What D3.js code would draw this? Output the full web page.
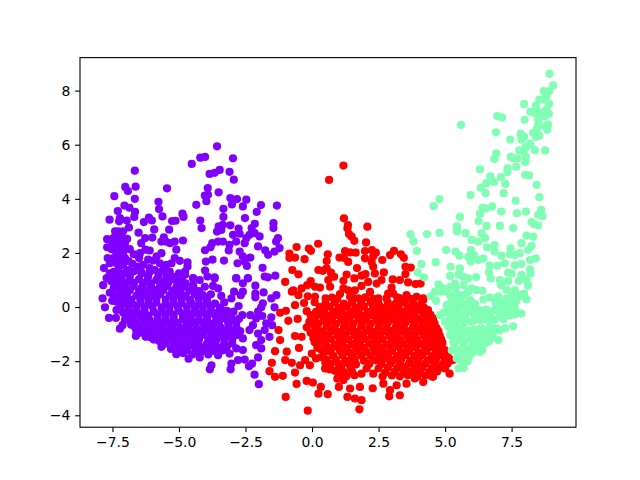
<!DOCTYPE html>
<html><head><meta charset="utf-8">
<script src="https://cdn.jsdelivr.net/npm/d3@7/dist/d3.min.js"></script>
<style>html,body{margin:0;padding:0;background:#fff}svg{display:block}</style>
</head><body><svg id="c" width="640" height="480"></svg>
<script>
const purplePoints = [[-3.57,5.94],[-4.2,5.52],[-4.02,5.55],[-4.52,5.29],[-2.97,5.5],[-6.66,5.04],[-3.47,5.07],[-3.66,4.96],[-3.85,4.92],[-3.1,5],[-2.94,4.71],[-7.02,4.44],[-6.92,4.29],[-6.63,4.45],[-5.45,4.39],[-7.43,4.1],[-6.66,4],[-5.77,3.89],[-5.75,3.62],[-3.92,4.4],[-3.91,4.15],[-4.03,4.12],[-3.51,4.24],[-3.97,3.91],[-4.35,3.78],[-3.07,4.03],[-2.82,3.99],[-3.01,3.79],[-2.47,3.97],[-2.6,3.72],[-3.33,3.63],[-1.92,3.77],[-2.08,3.52],[-1.32,3.75],[-7.05,3.75],[-6.86,3.67],[-7.3,3.55],[-6.65,3.52],[-6.68,3.33],[-7.61,3.23],[-7.22,3.29],[-6.96,3.2],[-7.25,3.17],[-6.32,3.14],[-6.13,3.31],[-6.02,3.2],[-5.62,3.35],[-4.87,3.45],[-4.83,3.33],[-5.26,3.18],[-5.13,3.19],[-5.37,2.86],[-5.93,2.87],[-6.52,2.75],[-6.88,2.94],[-4.2,3.2],[-4.15,2.92],[-3.33,3.33],[-2.52,3.29],[-1.45,3.1],[-1.45,2.92],
[-3.51,2.98],[-3.35,3.04],[-3.07,3.02],[-2.76,2.9],[-2.15,3.08],[-2.27,2.92],[-3.57,2.79],[-3.41,2.85],[-2.97,2.67],[-2.72,2.71],[-2.35,2.67],[-2.16,2.73],[-1.97,2.61],[-2.03,2.24],[-2.47,2.55],[-2.53,2.36],[-2.85,2.42],[-3.1,2.3],[-3.35,2.42],[-3.53,2.42],[-3.75,2.36],[-3.82,2.21],[-4.02,2.1],[-3.13,2.09],[-2.72,2.05],[-2.6,1.87],[-2.32,1.83],[-2.8,1.62],[-2.53,1.68],[-2.45,1.52],[-1.76,2.1],[-1.65,1.93],[-1.41,2.05],[-1.35,2.42],[-1.28,2.55],[-1.22,2.18],[-3.99,1.68],[-3.74,1.75],[-3.31,1.72],[-1.86,1.45],[-4.02,1.35],[-3.93,1.13],[-3.66,1.1],[-2.85,1.07],[-2.41,1.07],[-1.78,1.13],[-1.66,1.1],[-1.38,1.16],[-4.47,1.07],
[-7.4,2.8],[-7.28,2.8],[-7.1,2.8],[-7.7,2.51],[-7.47,2.55],[-7.28,2.55],[-7.16,2.61],[-6.95,2.52],[-7.03,2.36],[-7.41,2.3],[-7.28,2.3],[-7.7,2.21],[-7.53,2.14],[-7.22,2.12],[-6.85,2.14],[-7.1,1.99],[-7.35,1.93],[-7.68,1.81],[-7.47,1.81],[-7.22,1.81],[-7.03,1.81],[-7.82,1.44],[-7.6,1.62],[-7.35,1.62],[-7.1,1.56],[-6.91,1.37],[-7.28,1.37],[-7.6,1.25],[-7.72,1.07],[-7.41,1.13],[-7.16,1.13],[-6.85,1.13],
[-6.27,2.55],[-6.42,2.36],[-6,2.57],[-5.57,2.58],[-5.66,2.42],[-5.5,2.42],[-5.34,2.36],[-5.16,2.42],[-4.85,2.46],[-5.1,2.12],[-6.26,2.12],[-6.1,2.09],[-6.47,1.99],[-5.66,1.99],[-5.84,1.87],[-6.5,1.81],[-6.16,1.75],[-5.97,1.72],[-5.16,1.81],[-4.97,1.71],[-4.68,1.65],[-4.68,1.5],[-5.28,1.62],[-5.47,1.56],[-5.72,1.62],[-6.34,1.56],[-6.53,1.5],[-6.1,1.44],[-5.91,1.37],[-5.6,1.37],[-5.35,1.31],[-4.77,1.31],[-4.77,1.19],[-6.41,1.25],[-6.16,1.13],[-5.78,1.13],[-5.47,1.13],[-5.1,1.13],
[-7.85,0.81],[-7.6,0.53],[-7.87,0.32],[-7.51,0.23],[-7.78,-0.01],[-7.35,-0.11],[-7.63,-0.4],[-7.37,-0.4],[-7.03,-0.48],[-7.12,-0.67],[-7.22,-0.8],[-6.62,-1.07],[-6.07,-1.12],[-5.66,-1.47],[-5.1,-1.74],[-4.64,-1.91],[-4.22,-1.86],[-3.78,-2.15],[-3.84,-2.3],[-3.53,-1.78],[-3.03,-2.09],[-3.06,-2.3],[-2.78,-1.96],[-2.53,-1.94],[-2.25,-2.09],[-2.37,-2.19],[-2.03,-1.86],[-2.16,-2.5],[-2,-2.85],
[-4.47,1.06],[-4.47,0.81],[-4.22,1],[-4.03,0.75],[-3.66,1.06],[-3.72,0.78],[-3.53,0.69],[-2.85,1.06],[-2.41,1.06],[-2.6,0.88],[-2.13,0.79],[-1.82,0.54],[-2.13,0.5],[-2.13,0.36],[-2.6,0.57],[-2.68,0.44],[-2.93,0.57],[-3.03,0.32],[-3.41,0.41],[-1.53,0.32],[-1.34,0.44],[-1.41,-0.01],[-2.76,0.04],[-1.85,0.14],[-1.91,-0.01],[-2.03,-0.17],[-2.62,-0.3],[-2.32,-0.3],[-2.1,-0.42],[-1.87,-0.33],[-1.53,-0.38],[-1.72,-0.6],[-1.5,-0.67],[-1.78,-0.85],[-2.22,-0.67],[-2.35,-0.85],[-2.03,-0.98],[-1.6,-1.1],[-1.91,-1.22],[-2.6,-1.16],[-2.1,-1.41],[-1.91,-1.53],[-2.6,-1.59],[-2.85,-1.53],[-3.1,-1.72],[-3.28,-1.41],
[-7.15,1],[-6.85,0.95],[-6.5,1.03],[-6.2,0.97],[-5.85,1],[-5.55,0.94],[-5.2,1.02],[-4.9,0.96],
[-7.3,0.75],[-7,0.7],[-6.7,0.78],[-6.4,0.72],[-6.05,0.76],[-5.75,0.7],[-5.45,0.77],[-5.1,0.73],[-4.8,0.75],[-4.45,0.7],
[-7.25,0.45],[-6.95,0.5],[-6.6,0.42],[-6.3,0.47],[-6,0.43],[-5.7,0.48],[-5.35,0.44],[-5.05,0.47],[-4.75,0.42],[-4.4,0.46],[-4.1,0.44],[-3.8,0.47],
[-7.05,0.15],[-6.75,0.12],[-6.45,0.18],[-6.15,0.13],[-5.85,0.17],[-5.5,0.12],[-5.2,0.16],[-4.9,0.14],[-4.55,0.17],[-4.25,0.12],[-3.95,0.16],[-3.65,0.13],[-3.3,0.17],
[-6.9,-0.15],[-6.6,-0.18],[-6.3,-0.13],[-5.95,-0.17],[-5.65,-0.12],[-5.35,-0.16],[-5,-0.14],[-4.7,-0.18],[-4.4,-0.12],[-4.1,-0.17],[-3.8,-0.13],[-3.5,-0.16],[-3.2,-0.14],[-2.95,-0.17],
[-6.7,-0.45],[-6.4,-0.42],[-6.1,-0.48],[-5.8,-0.43],[-5.5,-0.47],[-5.2,-0.42],[-4.85,-0.46],[-4.55,-0.44],[-4.25,-0.48],[-3.95,-0.43],[-3.6,-0.47],[-3.3,-0.42],[-3,-0.46],[-2.75,-0.44],
[-6.5,-0.75],[-6.2,-0.78],[-5.9,-0.72],[-5.6,-0.77],[-5.25,-0.73],[-4.95,-0.76],[-4.65,-0.72],[-4.35,-0.78],[-4.05,-0.73],[-3.75,-0.77],[-3.45,-0.74],[-3.15,-0.76],[-2.85,-0.73],
[-6.2,-1],[-5.9,-1.03],[-5.6,-1.05],[-5.3,-1.02],[-5,-1.07],[-4.7,-1.03],[-4.4,-1.06],[-4.1,-1.02],[-3.75,-1.07],[-3.45,-1.03],[-3.15,-1.06],[-2.85,-1.04],
[-5.2,-1.35],[-4.9,-1.32],[-4.6,-1.37],[-4.3,-1.33],[-3.95,-1.36],[-3.65,-1.32],[-3.3,-1.37],[-3,-1.34],
[-4.7,-1.6],[-4.35,-1.63],[-4,-1.58],[-3.7,-1.62],[-3.35,-1.6]];

const purpleDense = [[-7,0.88],[-6.7,0.9],[-6.35,0.85],[-6.05,0.88],[-5.7,0.86],[-5.4,0.9],[-5.05,0.87],[-4.75,0.88],
[-7.15,0.6],[-6.85,0.62],[-6.5,0.58],[-6.2,0.61],[-5.9,0.59],[-5.6,0.62],[-5.25,0.6],[-4.95,0.58],[-4.6,0.61],[-4.25,0.59],
[-7.1,0.3],[-6.8,0.28],[-6.45,0.32],[-6.15,0.29],[-5.85,0.31],[-5.5,0.28],[-5.2,0.32],[-4.9,0.3],[-4.6,0.28],[-4.25,0.31],[-3.95,0.29],
[-6.9,0],[-6.6,0.03],[-6.3,-0.02],[-6,0.02],[-5.65,-0.01],[-5.35,0.03],[-5.05,0],[-4.7,0.02],[-4.4,-0.02],[-4.1,0.01],[-3.8,0.02],[-3.45,-0.01],
[-6.75,-0.3],[-6.45,-0.28],[-6.15,-0.32],[-5.8,-0.29],[-5.5,-0.31],[-5.2,-0.28],[-4.85,-0.32],[-4.55,-0.3],[-4.25,-0.28],[-3.95,-0.31],[-3.65,-0.29],[-3.35,-0.31],[-3.05,-0.29],
[-6.55,-0.6],[-6.25,-0.58],[-5.95,-0.62],[-5.65,-0.59],[-5.35,-0.61],[-5.05,-0.58],[-4.7,-0.62],[-4.4,-0.6],[-4.1,-0.58],[-3.8,-0.61],[-3.5,-0.59],[-3.15,-0.61],[-2.85,-0.59],
[-6.3,-0.9],[-6,-0.88],[-5.7,-0.92],[-5.4,-0.89],[-5.1,-0.91],[-4.8,-0.88],[-4.5,-0.92],[-4.2,-0.9],[-3.9,-0.88],[-3.6,-0.91],[-3.3,-0.89],[-3,-0.91],[-2.7,-0.89],
[-5.45,-1.2],[-5.15,-1.18],[-4.85,-1.22],[-4.55,-1.19],[-4.25,-1.21],[-3.9,-1.18],[-3.6,-1.22],[-3.3,-1.2],[-3,-1.19],
[-5,-1.47],[-4.75,-1.5],[-4.45,-1.45],[-4.15,-1.48],[-3.8,-1.46],[-3.5,-1.49],[-3.2,-1.47],
[-7.45,1.3],[-7,1.28],[-6.7,1.32],[-6.4,1.27],[-6.1,1.3],[-5.75,1.26],[-5.3,1.15],[-5,1.25],[-7.55,0.95],[-7.45,0.7],
[-7.4,1.75],[-7.1,1.78],[-6.9,1.7],[-7.4,2.1],[-7.05,2.15],[-7.3,2.45],[-7.5,2.35],[-6.75,1.6],[-6.7,1.95],
[-7.45,0.45],[-7.35,0.2],[-7.2,0],[-7.1,-0.2],[-7,-0.35],[-6.85,-0.45],[-6.8,-0.65],[-6.65,-0.75],[-6.45,-0.95],[-7.45,1],[-7.3,0.95],[-7.1,0.7],[-7.15,0.3],[-6.95,0.2],[-6.8,-0.2],[-6.6,-0.9],[-6.25,-1.1],[-5.95,-1.2],[-5.75,-1.25],[-5.5,-1.35],[-5.3,-1.55],[-5,-1.6],[-4.85,-1.7],[-4.5,-1.75],[-4.2,-1.7],[-3.9,-1.75],[-3.5,-1.65]];

const redPoints = [[1.18,5.23],[0.64,4.7],[1.2,3.28],[1.35,3.03],[2.08,2.97],[1.33,2.91],[1.39,2.7],[1.49,2.6],[1.59,2.45],[2.03,2.39],[0.23,2.34],[-0.58,2.22],[-0.12,2.16],[-0.04,2.08],[0.59,1.95],[-0.85,1.98],[-0.85,1.82],[-0.64,1.83],[-0.28,1.77],[0.55,1.7],[1.24,2.07],[1.43,2.02],[1.64,2.01],[1.99,2.07],[2.25,2.11],[2.4,2.01],[2.3,1.88],[1.99,1.8],[1.03,1.83],[1.2,1.82],[1.36,1.67],[2.64,1.74],[2.93,1.92],[3.08,2.08],[3.34,1.95],[3.45,1.82],[2.24,1.67],[2.3,1.49],[3.51,1.49],[3.71,1.46],[-0.74,1.37],[-0.51,1.21],[-1.01,0.93],[1.69,1.44],[0.24,1.37],[0.55,1.43],[0.4,1.34],[0.71,1.27],[0.83,1.12],[0.61,1],[0.68,0.75],[1.3,1.2],[1.18,0.97],[1.59,1.06],[1.86,1.16],[2.01,1.22],[2.36,1.24],[2.7,1.28],[2.61,1],[2.43,0.87],[2.11,0.93],[1.86,0.78],[3.03,1.02],[3.3,1],[3.51,1.22],[3.61,0.91],[3.89,0.85],[4.08,0.87],[-0.05,0.96],[-0.18,0.81],[0.11,0.75],[0.3,0.72],[-0.7,0.62],[-0.39,0.69],[-0.51,0.44],[-0.16,0.4],[0.11,0.38],[0.51,0.32],[1.05,0.48],[1.18,0.69],[1.36,0.62],[1.61,0.62],[1.43,0.38],[1.74,0.32],[2.18,0.56],[2.49,0.32],[2.86,0.5],[2.99,0.72],[3.05,0.5],[3.55,0.44],[3.93,0.38],[4.18,0.32],[2.8,0.32],[3.3,0.32],
[-1.2,-0.21],[-0.98,-0.14],[-0.89,-0.51],[-0.54,-0.44],[-0.64,0.07],[-0.76,0.57],[-1.26,-0.85],[-1.2,-1.22],[-0.95,-1.65],[-1.39,-1.63],[-0.49,-1.51],[-0.64,-1.07],[-0.39,-1.1],[-1.01,-1.96],[-1.51,-2.06],[-1.6,-2.37],[-1.39,-2.58],[-1.1,-2.54],[-0.64,-2.42],[-0.76,-2.06],[-0.45,-2.15],[-0.26,-1.96],[-0.01,-1.72],[-0.08,-2.15],[0.49,-2.27],[-0.2,-2.73],[0.03,-2.79],[-0.58,-2.84],[0.33,-2.95],[0.24,-3.2],[0.59,-3.22],[-0.99,-3.32],[-0.16,-3.83],[1.78,-3.78],[1.01,-2.95],[1.33,-3.32],[1.61,-3.38],[1.86,-3.44],[2.28,-3],[2.9,-3.3],[3.3,-3.26],[2.93,-3.07],[5.17,-2.46],[4.55,-2.58],[4.18,-2.77],[3.55,-2.83],[3.86,-2.64],[5.3,-1.96],[4.99,-1.59],[4.86,-1.22],[4.68,-0.79],[4.55,-0.42],[4.36,-0.11],[4.18,0.26],[1.86,-2.46],[2.05,-2.27],[2.3,-2.46],[2.68,-2.83],[1.18,-2.7],[1.43,-3.01],[1.8,-2.95],[3.18,-2.89],
[-0.3,0.15],[0.1,0.18],[0.5,0.13],[0.85,0.17],[1.2,0.12],[1.5,0.16],[1.85,0.14],[2.2,0.18],[2.5,0.12],[2.85,0.16],[3.15,0.13],[3.45,0.17],[3.8,0.14],[4.1,0.12],
[-0.2,-0.15],[0.15,-0.18],[0.45,-0.13],[0.8,-0.17],[1.1,-0.12],[1.45,-0.16],[1.75,-0.14],[2.1,-0.18],[2.4,-0.12],[2.75,-0.16],[3.05,-0.13],[3.4,-0.17],[3.7,-0.14],[4.05,-0.12],[4.3,-0.16],
[0.1,-0.45],[0.45,-0.48],[0.75,-0.43],[1.1,-0.47],[1.4,-0.42],[1.75,-0.46],[2.05,-0.44],[2.4,-0.48],[2.7,-0.42],[3.05,-0.47],[3.35,-0.43],[3.7,-0.46],[4,-0.44],[4.3,-0.48],[4.5,-0.43],
[-0.2,-0.75],[0.2,-0.78],[0.55,-0.72],[0.85,-0.77],[1.2,-0.73],[1.5,-0.76],[1.85,-0.72],[2.15,-0.78],[2.5,-0.73],[2.8,-0.77],[3.15,-0.74],[3.45,-0.76],[3.8,-0.73],[4.1,-0.77],[4.4,-0.74],[4.65,-0.76],
[0.3,-1.05],[0.6,-1.02],[0.95,-1.07],[1.25,-1.03],[1.6,-1.06],[1.9,-1.02],[2.25,-1.07],[2.55,-1.03],[2.9,-1.06],[3.2,-1.04],[3.55,-1.07],[3.85,-1.03],[4.2,-1.06],[4.5,-1.04],[4.8,-1.06],
[0.5,-1.35],[0.85,-1.38],[1.15,-1.33],[1.5,-1.37],[1.8,-1.32],[2.15,-1.36],[2.45,-1.34],[2.8,-1.38],[3.1,-1.32],[3.45,-1.37],[3.75,-1.33],[4.1,-1.36],[4.4,-1.34],[4.7,-1.37],[4.9,-1.33],
[0.7,-1.65],[1.05,-1.62],[1.4,-1.67],[1.7,-1.63],[2.05,-1.66],[2.35,-1.62],[2.7,-1.67],[3,-1.63],[3.35,-1.66],[3.65,-1.64],[4,-1.67],[4.3,-1.63],[4.65,-1.66],[4.95,-1.64],[5.1,-1.67],
[0.9,-1.95],[1.25,-1.98],[1.6,-1.93],[2.4,-1.97],[2.7,-1.92],[3.05,-1.96],[3.35,-1.94],[3.7,-1.98],[4,-1.92],[4.35,-1.97],[4.65,-1.93],[5,-1.96],[5.2,-1.94],
[1.1,-2.25],[1.45,-2.22],[2.5,-2.27],[2.85,-2.23],[3.2,-2.26],[3.5,-2.22],[3.85,-2.27],[4.15,-2.23],[4.5,-2.26],[4.8,-2.24],[5,-2.27],
[1.3,-2.55],[1.6,-2.52],[2.65,-2.57],[3,-2.53],[3.3,-2.56],[3.6,-2.52],[3.95,-2.57],[4.25,-2.53],[4.5,-2.56]];

const redDense = [[0.3,0],[0.65,0.02],[1,-0.02],[1.3,0.01],[1.65,-0.01],[1.95,0.02],[2.3,0],[2.65,-0.02],[2.95,0.01],[3.25,-0.01],[3.6,0.02],[3.9,0],[4.2,-0.02],
[-0.05,-0.3],[0.3,-0.28],[0.6,-0.32],[0.95,-0.29],[1.25,-0.31],[1.6,-0.28],[1.9,-0.32],[2.25,-0.3],[2.55,-0.28],[2.9,-0.31],[3.2,-0.29],[3.55,-0.31],[3.85,-0.29],[4.2,-0.32],[4.45,-0.29],
[0.25,-0.6],[0.6,-0.58],[0.9,-0.62],[1.25,-0.59],[1.55,-0.61],[1.9,-0.58],[2.2,-0.62],[2.55,-0.6],[2.85,-0.58],[3.2,-0.61],[3.5,-0.59],[3.85,-0.61],[4.15,-0.59],[4.45,-0.62],[4.6,-0.6],
[0.4,-0.9],[0.75,-0.88],[1.05,-0.92],[1.4,-0.89],[1.7,-0.91],[2.05,-0.88],[2.35,-0.92],[2.7,-0.9],[3,-0.88],[3.35,-0.91],[3.65,-0.89],[4,-0.91],[4.3,-0.89],[4.6,-0.92],[4.75,-0.9],
[0.4,-1.2],[0.7,-1.18],[1.05,-1.22],[1.35,-1.19],[1.7,-1.21],[2,-1.18],[2.35,-1.22],[2.65,-1.2],[3,-1.18],[3.3,-1.21],[3.65,-1.19],[3.95,-1.21],[4.3,-1.19],[4.6,-1.22],[4.85,-1.2],
[0.6,-1.5],[0.95,-1.48],[1.3,-1.52],[1.65,-1.49],[1.95,-1.51],[2.3,-1.48],[2.6,-1.52],[2.95,-1.5],[3.25,-1.48],[3.6,-1.51],[3.9,-1.49],[4.25,-1.51],[4.55,-1.49],[4.85,-1.52],
[0.8,-1.8],[1.15,-1.78],[1.5,-1.82],[1.85,-1.79],[2.2,-1.81],[2.5,-1.78],[2.85,-1.82],[3.2,-1.8],[3.5,-1.78],[3.85,-1.81],[4.15,-1.79],[4.5,-1.81],[4.8,-1.79],[5.1,-1.82],
[1,-2.1],[1.35,-2.08],[1.65,-2.12],[1.95,-1.98],[2.15,-2.1],[2.6,-2.11],[2.95,-2.09],[3.3,-2.11],[3.65,-2.08],[3.95,-2.12],[4.25,-2.1],[4.6,-2.08],[4.9,-2.11],[5.1,-2.09],
[1.2,-2.4],[1.5,-2.38],[2.75,-2.42],[3.1,-2.39],[3.45,-2.41],[3.75,-2.38],[4.05,-2.42],[4.4,-2.4],[4.7,-2.38],
[0.75,0.35],[0.95,0.3],[1.55,0.33],[2,0.36],[2.3,0.3],[3.2,0.36],[3.7,0.3],
[0.1,-1.3],[0.2,-1.5],[0.05,-1.15],[0.3,-1.55],[0.35,-1.85],[0.15,-1.9],[0.55,-1.95],[0.7,-2.1],[0.5,-2.05],[0.85,-2.35],[1,-2.5],[0.95,-2.65],[0.3,-1.25],[0.45,-1.7],[0.65,-2.3],[-0.05,-0.95],[0.1,-0.7],[-0.1,-0.55],[0.1,-0.95]];

const mintPoints = [[8.92,8.62],[9.06,8.19],[8.71,7.98],[8.91,7.98],[8.81,7.79],[8.54,7.67],[8.69,7.67],[7.97,7.5],[8.42,7.45],[8.91,7.51],[8.81,7.3],[8.21,7.22],[8.56,7.2],[8.37,7.17],[8.9,7.14],[8.75,7.05],[6.96,7.06],[7.14,7.01],[7.99,6.92],[8.5,6.93],[8.5,6.74],[8.87,6.74],[8.75,6.68],[5.6,6.73],[8.84,6.55],[8.44,6.56],[6.91,6.46],[8.31,6.43],[8.54,6.33],[8.41,6.29],[7.84,6.4],[7.97,6.29],[7.87,6.19],[7.45,6.19],[8.19,6.03],[8.04,5.92],[7.79,5.79],[7.96,5.75],[8.37,5.8],[8.76,5.79],[6.92,5.68],[6.85,5.48],[7.47,5.55],[7.56,5.5],[7.72,5.5],[8.04,5.55],[8.02,5.36],[7.67,5.19],[7.35,5.13],[7.34,4.99],[6.31,5.09],[8.01,4.89],[8.16,4.87],[6.7,4.83],[7.1,4.8],[6.55,4.58],[6.84,4.62],[6.34,4.41],[7.27,4.55],[8.44,4.52],[6.52,4.21],[7.2,4.21],[5.96,4.14],[8.54,4.06],[4.79,3.99],[4.57,3.73],[7.65,3.93],[6.41,3.67],[6.53,3.64],[6.77,3.72],[6.31,3.45],[7.11,3.53],[7.7,3.47],[8.04,3.53],[8.61,3.59],[8.5,3.41],[8.66,3.35],[5.56,3.33],[6.26,3.17],[8.25,3.14],[8.35,3.06],[8.5,3.01],[5.44,2.98],[6.56,3],[7.06,3],[7.56,2.92],
[3.7,2.69],[3.81,2.43],[4.32,2.7],[4.79,2.74],[5.45,2.95],[5.45,2.79],[5.77,2.73],[6,2.48],[6.25,2.42],[6.37,2.73],[6.51,2.55],[6.58,2.21],[6.86,2.29],[6.86,2.05],[7.46,2.17],[7.12,1.9],[7.44,1.95],[7.87,2.36],[8.06,2.64],[8.31,2.6],[8.25,2.26],[8.12,2.11],[7.81,1.99],[7.62,1.92],[8.41,1.8],[8.19,1.74],[3.94,2.07],[5.04,2.11],[5.39,2.05],[5.54,1.9],[4.65,1.66],[4.11,1.59],[5.97,2.11],[5.87,1.86],[6.09,1.92],[6.44,1.8],[6.25,1.74],[5.96,1.68],[6.68,1.53],[6.97,1.53],[7.25,1.62],[7.62,1.55],[7.87,1.59],[5.21,1.49],[5.56,1.43],[6.65,1.28],[6.72,1.06],[7.37,1.27],[7.5,1.24],[8.19,1.39],[8.21,1.24],[7.87,1.18],[8.06,1],[8.12,0.79],[7.77,0.97],[7.37,0.96],[7.06,1],[7.1,0.81],[6.17,1.11],[5.19,1.15],[5.5,1.2],[5.69,1.12],[5.87,1.06],[4.21,1.1],[3.97,1.28],[4.75,0.84],[5.37,0.87],[5.69,0.81],[5.19,0.75],[4.62,0.57],[4.87,0.57],[4.46,0.4],[4.66,0.23],[5.06,0.57],[5.44,0.5],[5.87,0.57],[6.17,0.63],[6.4,0.6],[7.31,0.63],[7.62,0.63],[7.97,0.5],[7.81,0.44],[8.06,0.28],[7.68,0.22],[6.69,0.35],[6.96,0.34],[7.31,0.32],[6.44,0.28],[5.56,0.26],[5.94,0.26],[5.06,0.07],[6.12,-0.01],[5.69,0.03],[5.44,0.01],[7.31,0.07],[7.06,0.01],[7.62,-0.05],[7.87,-0.24],[7.44,-0.3],[6.94,-0.11],[6.75,-0.17],[6.69,-0.36],[7.06,-0.36],[5.19,-0.32],[5.56,-0.3],[4.81,-0.3],[7.56,-0.71],[7.25,-0.79],[6.94,-0.79],[6.62,-0.48],[6.31,-0.48],[6,-0.55],[5.69,-0.61],[5.37,-0.67],[5.12,-0.73],[6.69,-0.73],[6.37,-0.79],[6.06,-0.85],[5.75,-0.92],[5.44,-0.92],[5.19,-1.04],[7,-1.22],[6.81,-1.1],[6.56,-1.04],[6.25,-1.1],[5.94,-1.16],[5.62,-1.22],[5.31,-1.29],[6.5,-1.35],[6.25,-1.41],[6,-1.47],[5.69,-1.47],[5.37,-1.53],[6.31,-1.66],[6,-1.72],[5.75,-1.72],[5.5,-1.72],[5.44,-1.9],[5.85,-2],[5.56,-1.98],[5.5,-2.27],[5.69,-2.25],[5,-0.55],[5.31,0.22],[5.5,-0.05],[6.12,0.12],[6.31,-0.2],[4.95,-0.2]];

const mintDense = [[5.25,-0.45],[5.45,-0.47],[5.75,-0.43],[6.15,-0.46],[6.45,-0.44],[6.85,-0.47],[7.2,-0.45],
[5.25,-0.85],[5.55,-0.83],[5.85,-0.87],[6.2,-0.84],[6.5,-0.86],[6.8,-0.83],[7.05,-0.87],
[5.3,-1],[5.6,-1.03],[5.9,-0.98],[6.15,-1.01],[6.45,-0.99],[6.7,-1.02],
[5.4,-1.25],[5.75,-1.23],[6.1,-1.27],[6.4,-1.24],[6.65,-1.26],
[5.25,-1.6],[5.55,-1.63],[5.85,-1.58],[6.15,-1.61],[6.4,-1.59],[5.65,-1.8],[5.9,-1.83],
[5.15,-0.1],[5.35,-0.12],[5.9,-0.08],[6.3,-0.11],[6.55,-0.09],[6.85,-0.12],[7.2,-0.1],[7.45,-0.08],
[5.2,0.15],[5.45,0.17],[5.7,0.13],[6,0.16],[6.9,0.14],[7.1,0.17],[7.5,0.13],
[5.35,-0.25],[5.75,-0.27],[6.05,-0.23],[6.45,-0.26],[7.2,-0.24],[7.65,-0.27],
[5.2,0.42],[5.7,0.44],[7,0.4],[7.5,0.43],[7.9,0.41],[4.9,0.7],[5.4,0.72],[6,0.68]];

const xTicks = [-7.5,-5,-2.5,0,2.5,5,7.5];
const yTicks = [-4,-2,0,2,4,6,8];
const xLimits = [-8.72,9.92];
const yLimits = [-4.44,9.22];

const plotLeft=80,plotRight=576,plotTop=57.6,plotBottom=427.2;
const x=d3.scaleLinear().domain(xLimits).range([plotLeft,plotRight]);
const y=d3.scaleLinear().domain(yLimits).range([plotBottom,plotTop]);
const svg=d3.select('#c');
const minus=s=>s.replace('-','\u2212');

const series=[[purplePoints.concat(purpleDense),'#8000ff'],[redPoints.concat(redDense),'#ff0000'],[mintPoints.concat(mintDense),'#80ffb4']];
series.forEach(([pts,col])=>{
  svg.append('g').selectAll('circle').data(pts).join('circle')
    .attr('cx',d=>x(d[0])).attr('cy',d=>y(d[1])).attr('r',4.1).attr('fill',col);
});

const ax=svg.append('g').attr('transform',`translate(0,${plotBottom})`)
  .call(d3.axisBottom(x).tickValues(xTicks).tickFormat(d=>minus(d3.format('.1f')(d))).tickSize(4.9).tickPadding(4.8));
const ay=svg.append('g').attr('transform',`translate(${plotLeft},0)`)
  .call(d3.axisLeft(y).tickValues(yTicks).tickFormat(d=>minus(String(d))).tickSize(4.9).tickPadding(4.8));
[ax,ay].forEach(g=>{
  g.select('.domain').remove();
  g.selectAll('line').attr('stroke','#000').attr('stroke-width',1.1);
  g.selectAll('text').attr('fill','#000').attr('font-family','"DejaVu Sans"').attr('font-size','13.9px');
});
svg.append('rect').attr('x',plotLeft).attr('y',plotTop).attr('width',plotRight-plotLeft).attr('height',plotBottom-plotTop)
  .attr('fill','none').attr('stroke','#000').attr('stroke-width',1.1);
</script></body></html>
